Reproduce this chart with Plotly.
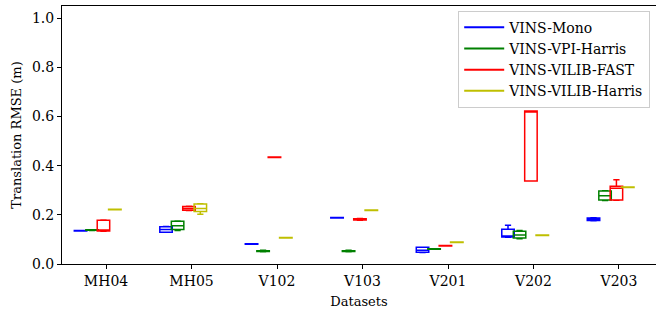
import plotly.graph_objects as go

datasets = ["MH04", "MH05", "V102", "V103", "V201", "V202", "V203"]
methods = ["VINS-Mono", "VINS-VPI-Harris", "VINS-VILIB-FAST", "VINS-VILIB-Harris"]
colors = ["#0000ff", "#008000", "#ff0000", "#bfbf00"]

# box statistics per method (one value per dataset)
mono_lo = [0.134, 0.129, 0.080, 0.187, 0.047, 0.109, 0.176]
mono_q1 = [0.134, 0.129, 0.080, 0.187, 0.048, 0.110, 0.177]
mono_med = [0.135, 0.140, 0.081, 0.188, 0.056, 0.112, 0.180]
mono_q3 = [0.136, 0.151, 0.082, 0.189, 0.068, 0.141, 0.187]
mono_hi = [0.136, 0.152, 0.082, 0.189, 0.068, 0.158, 0.188]

vpi_lo = [0.136, 0.136, 0.050, 0.050, 0.060, 0.103, 0.258]
vpi_q1 = [0.137, 0.140, 0.051, 0.051, 0.060, 0.106, 0.260]
vpi_med = [0.138, 0.156, 0.052, 0.052, 0.061, 0.118, 0.278]
vpi_q3 = [0.139, 0.174, 0.054, 0.054, 0.062, 0.133, 0.297]
vpi_hi = [0.139, 0.175, 0.056, 0.056, 0.062, 0.136, 0.298]

fast_lo = [0.133, 0.218, 0.433, 0.178, 0.073, 0.337, 0.259]
fast_q1 = [0.134, 0.219, 0.433, 0.179, 0.073, 0.337, 0.260]
fast_med = [0.137, 0.226, 0.434, 0.182, 0.074, 0.622, 0.308]
fast_q3 = [0.178, 0.234, 0.435, 0.184, 0.075, 0.622, 0.316]
fast_hi = [0.179, 0.235, 0.435, 0.185, 0.075, 0.622, 0.343]

harris_lo = [0.221, 0.202, 0.106, 0.218, 0.087, 0.116, 0.311]
harris_q1 = [0.221, 0.213, 0.106, 0.218, 0.087, 0.116, 0.311]
harris_med = [0.222, 0.226, 0.107, 0.219, 0.088, 0.117, 0.312]
harris_q3 = [0.223, 0.244, 0.108, 0.220, 0.089, 0.118, 0.313]
harris_hi = [0.223, 0.245, 0.108, 0.220, 0.089, 0.118, 0.313]

stats = [
    (mono_lo, mono_q1, mono_med, mono_q3, mono_hi),
    (vpi_lo, vpi_q1, vpi_med, vpi_q3, vpi_hi),
    (fast_lo, fast_q1, fast_med, fast_q3, fast_hi),
    (harris_lo, harris_q1, harris_med, harris_q3, harris_hi),
]
offsets = [-0.298, -0.163, -0.030, 0.103]
box_width = 0.146

FONT = "DejaVu Serif"
fig = go.Figure()
for k, (name, col, st, off) in enumerate(zip(methods, colors, stats, offsets)):
    lo, q1, med, q3, hi = st
    xs = [i + off for i in range(len(datasets))]
    fig.add_trace(go.Box(
        x=xs, q1=q1, median=med, q3=q3, lowerfence=lo, upperfence=hi,
        width=box_width, whiskerwidth=0.5,
        line=dict(color=col, width=1.5), fillcolor="rgba(255,255,255,0)",
        showlegend=False, name=name, boxpoints=False, hoverinfo="skip",
    ))
for name, col in zip(methods, colors):
    fig.add_trace(go.Scatter(x=[None], y=[None], mode="lines", name=name,
                             line=dict(color=col, width=2)))

fig.update_layout(
    width=656, height=309,
    margin=dict(l=62, r=0, t=6, b=45),
    paper_bgcolor="white", plot_bgcolor="white",
    font=dict(family=FONT, size=14, color="black"),
    showlegend=True,
    legend=dict(x=0.667, y=0.982, xanchor="left", yanchor="top",
                bgcolor="rgba(255,255,255,0.8)", bordercolor="#cccccc", borderwidth=1,
                font=dict(family=FONT, size=14), itemwidth=40, tracegroupgap=0),
)
fig.update_xaxes(
    range=[-0.515, 6.433], tickmode="array",
    tickvals=list(range(len(datasets))), ticktext=datasets,
    showline=True, linecolor="black", linewidth=1, mirror=True,
    ticks="outside", ticklen=4, tickcolor="black", showgrid=False, zeroline=False,
    title=dict(text="Datasets", standoff=9, font=dict(size=13)),
)
fig.update_yaxes(
    range=[0, 1.049], tickvals=[0, 0.2, 0.4, 0.6, 0.8, 1.0],
    ticktext=["0.0", "0.2", "0.4", "0.6", "0.8", "1.0"],
    showline=True, linecolor="black", linewidth=1, mirror=False,
    ticks="outside", ticklen=4, tickcolor="black", showgrid=False, zeroline=False,
    title=dict(text="Translation RMSE (m)", standoff=7, font=dict(size=13)),
)
fig.write_html("out.html", config={"displayModeBar": False},
               post_script="document.body.style.margin='0';")
